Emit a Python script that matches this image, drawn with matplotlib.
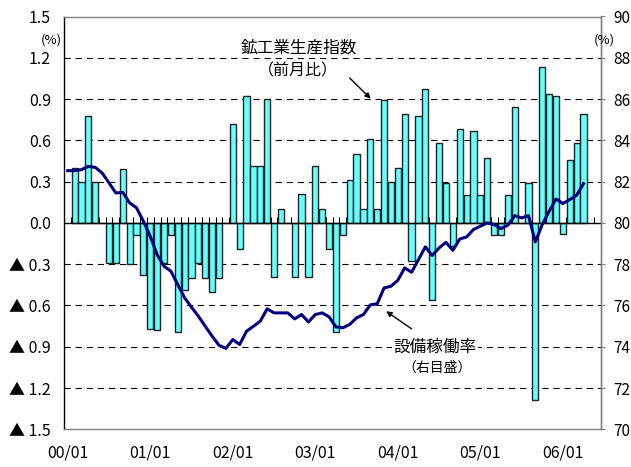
import numpy as np
import matplotlib
matplotlib.use("Agg")
import matplotlib.pyplot as plt

plt.rcParams['font.family'] = ['Noto Sans CJK JP', 'DejaVu Sans']
plt.rcParams['lines.scale_dashes'] = False

# ---- data ----
x_tick_labels = ["00/01", "01/01", "02/01", "03/01", "04/01", "05/01", "06/01"]
n_slots = 78  # monthly category slots on the x axis

# 鉱工業生産指数（前月比, %） - bars (start one slot after the line)
iip_mom = [0.40, 0.30, 0.78, 0.30, 0.00, -0.29, -0.29, 0.39, -0.30, -0.09,
           -0.38, -0.77, -0.78, -0.29, -0.09, -0.79, -0.49, -0.40, -0.29, -0.40,
           -0.50, -0.40, 0.00, 0.72, -0.19, 0.92, 0.41, 0.41, 0.90, -0.39,
           0.10, 0.00, -0.39, 0.21, -0.39, 0.41, 0.10, -0.19, -0.79, -0.09,
           0.31, 0.50, 0.10, 0.61, 0.10, 0.89, 0.30, 0.40, 0.79, -0.28,
           0.78, 0.97, -0.56, 0.58, 0.29, -0.17, 0.68, 0.20, 0.67, 0.20,
           0.47, -0.09, -0.09, 0.20, 0.84, 0.00, 0.29, -1.29, 1.13, 0.94,
           0.92, -0.08, 0.46, 0.58, 0.79]

# 設備稼働率 (右目盛, %) - line
util = [82.53, 82.53, 82.58, 82.74, 82.69, 82.42, 81.94, 81.45, 81.48, 80.97,
        80.73, 80.08, 79.35, 78.46, 77.90, 77.66, 77.01, 76.37, 75.91, 75.48,
        74.99, 74.51, 74.07, 73.92, 74.35, 74.11, 74.75, 74.99, 75.24, 75.84,
        75.64, 75.64, 75.64, 75.35, 75.56, 75.20, 75.56, 75.64, 75.45, 74.96,
        74.92, 75.08, 75.40, 75.56, 76.03, 76.08, 76.85, 76.93, 77.22, 77.82,
        77.61, 78.22, 78.84, 78.42, 78.79, 79.06, 78.67, 79.22, 79.32, 79.68,
        79.84, 80.00, 79.92, 79.72, 79.89, 80.35, 80.24, 80.35, 79.08, 79.92,
        80.56, 81.16, 80.94, 81.13, 81.34, 81.90]

left_ticks = [1.5, 1.2, 0.9, 0.6, 0.3, 0.0, -0.3, -0.6, -0.9, -1.2, -1.5]
left_labels = ["1.5", "1.2", "0.9", "0.6", "0.3", "0.0",
               "▲ 0.3", "▲ 0.6", "▲ 0.9", "▲ 1.2", "▲ 1.5"]
right_ticks = [70, 72, 74, 76, 78, 80, 82, 84, 86, 88, 90]
right_labels = [str(v) for v in right_ticks]

# ---- figure ----
W, H = 631, 467
fig = plt.figure(figsize=(W / 100, H / 100), dpi=100)
L, R, T, B = 64.3, 600.7, 16.5, 429.3
ax = fig.add_axes([L / W, 1 - B / H, (R - L) / W, (B - T) / H])
ax2 = ax.twinx()

bar_x = np.arange(len(iip_mom)) + 1
line_x = np.arange(len(util))

ax.set_xlim(-0.5, n_slots - 0.5)
ax.set_ylim(-1.5, 1.5)
ax2.set_ylim(70, 90)

# gridlines (inner ticks except zero)
for v in left_ticks:
    if v not in (1.5, -1.5, 0.0):
        ax.axhline(v, color='black', lw=0.8, linestyle=(0, (4.5, 3.5)), zorder=1)
ax.axhline(0, color='black', lw=1.0, zorder=3)
ax.vlines(np.arange(n_slots + 1) - 0.5, 0, 0.045, color='black', lw=0.8, zorder=1.5)

ax.bar(bar_x, iip_mom, width=0.9, color='#66FFFF', edgecolor='#222222',
       linewidth=1.0, zorder=2)

ax2.plot(line_x, util, color='#000080', lw=2.2, zorder=5)

# axes styling
ax.set_yticks(left_ticks)
ax.set_yticklabels(left_labels)
ax.set_xticks(np.arange(0, n_slots, 12)[:len(x_tick_labels)])
ax.set_xticklabels(x_tick_labels)
ax.tick_params(axis='y', length=0, pad=9.5, labelsize=11.5, colors='black')
ax.tick_params(axis='x', length=0, pad=11, labelsize=11.5)
ax2.set_yticks(right_ticks)
ax2.set_yticklabels(right_labels)
ax2.tick_params(axis='y', direction='out', length=3, pad=6, labelsize=11,
                color='#808080', labelcolor='black')

ax.spines['left'].set_color('black')
ax.spines['left'].set_linewidth(1.0)
for s in ('top', 'bottom', 'right'):
    ax.spines[s].set_color('#808080')
    ax.spines[s].set_linewidth(1.0)
for s in ('top', 'bottom', 'left'):
    ax2.spines[s].set_visible(False)
ax2.spines['right'].set_color('#808080')
ax2.spines['right'].set_linewidth(1.0)

# annotations
wbox = dict(facecolor='white', edgecolor='none', pad=1.0)
ax.text(33.6, 1.271, '鉱工業生産指数', fontsize=12, ha='center', va='center',
        bbox=wbox, zorder=6)
ax.text(33.4, 1.107, '（前月比）', fontsize=11.5, ha='center', va='center', zorder=6)
ax.annotate('', xy=(44.05, 0.903), xytext=(41.0, 1.053),
            arrowprops=dict(arrowstyle='-|>', color='black', lw=1.0,
                            mutation_scale=8, shrinkA=0, shrinkB=0), zorder=6)
ax.text(53.4, -0.906, '設備稼働率', fontsize=12, ha='center', va='center',
        bbox=wbox, zorder=6)
ax.text(53.7, -1.051, '（右目盛）', fontsize=10, ha='center', va='center', zorder=6)
ax.annotate('', xy=(46.3, -0.642), xytext=(50.0, -0.77),
            arrowprops=dict(arrowstyle='-|>', color='black', lw=1.0,
                            mutation_scale=8, shrinkA=0, shrinkB=0), zorder=6)

fig.text(51.5 / W, 1 - 40 / H, '(%)', fontsize=9.5, ha='center', va='center')
fig.text(604.5 / W, 1 - 40 / H, '(%)', fontsize=9.5, ha='center', va='center')

fig.savefig('out.png', dpi=100)
